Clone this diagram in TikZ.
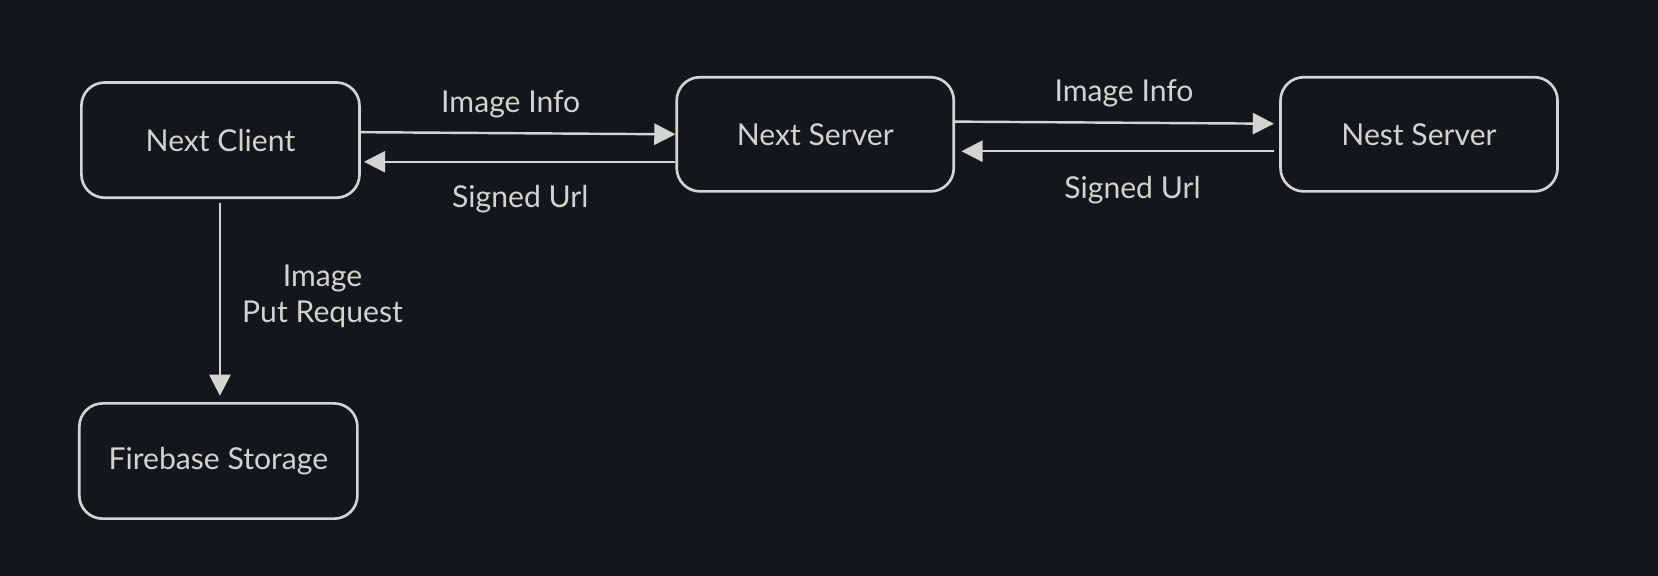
\documentclass[tikz,border=0pt]{standalone}
\usepackage{fontspec}
\setmainfont{Lato}
\usetikzlibrary{arrows.meta}
\definecolor{bg}{RGB}{20,23,26}
\definecolor{ln}{RGB}{212,212,212}
\definecolor{tx}{RGB}{210,210,210}
\begin{document}
\begin{tikzpicture}[x=1pt,y=-1pt,
  box/.style={draw=ln, line width=2.5pt, rounded corners=22pt, minimum width=263pt, minimum height=109pt,
    inner sep=0pt, text=tx, font=\fontsize{28.5}{34}\selectfont},
  lbl/.style={text=tx, font=\fontsize{28.5}{34}\selectfont, inner sep=0pt, align=center},
  arr/.style={draw=ln, line width=2.3pt, -{Triangle[length=20pt,width=20pt]}, color=ln}]
\fill[bg] (0,0) rectangle (1568,544.7);
\useasboundingbox (0,0) rectangle (1568,544.7);
\node[box] (nc) at (208.5,132.5) {Next Client};
\node[box, minimum width=262pt, minimum height=108pt] (ns) at (771,127) {Next Server};
\node[box, minimum width=262pt, minimum height=108pt] (nest) at (1342,127) {Nest Server};
\node[box] (fb) at (206.5,436) {Firebase Storage};
\draw[arr] ([yshift=7.5pt]nc.east) -- ([yshift=0pt]ns.west);
\draw[arr] ([yshift=-26pt]ns.west) -- ([xshift=3pt,yshift=-20.5pt]nc.east);
\draw[arr] ([yshift=12pt]ns.east) -- ([xshift=-5pt,yshift=10pt]nest.west);
\draw[arr] ([xshift=-5pt,yshift=-16pt]nest.west) -- ([xshift=6pt,yshift=-16pt]ns.east);
\draw[arr] ([xshift=-0.5pt,yshift=-4pt]nc.south) -- ([xshift=1.5pt,yshift=6pt]fb.north);
\node[lbl] (l1) at (483,98.5) {Image Info};
\node[lbl] (l2) at (492,188.5) {Signed Url};
\node[lbl] (l3) at (1063,88.5) {Image Info};
\node[lbl] (l4) at (1071,179.5) {Signed Url};
\node[lbl] (l5) at (305,280) {Image\\Put Request};
\end{tikzpicture}
\end{document}
